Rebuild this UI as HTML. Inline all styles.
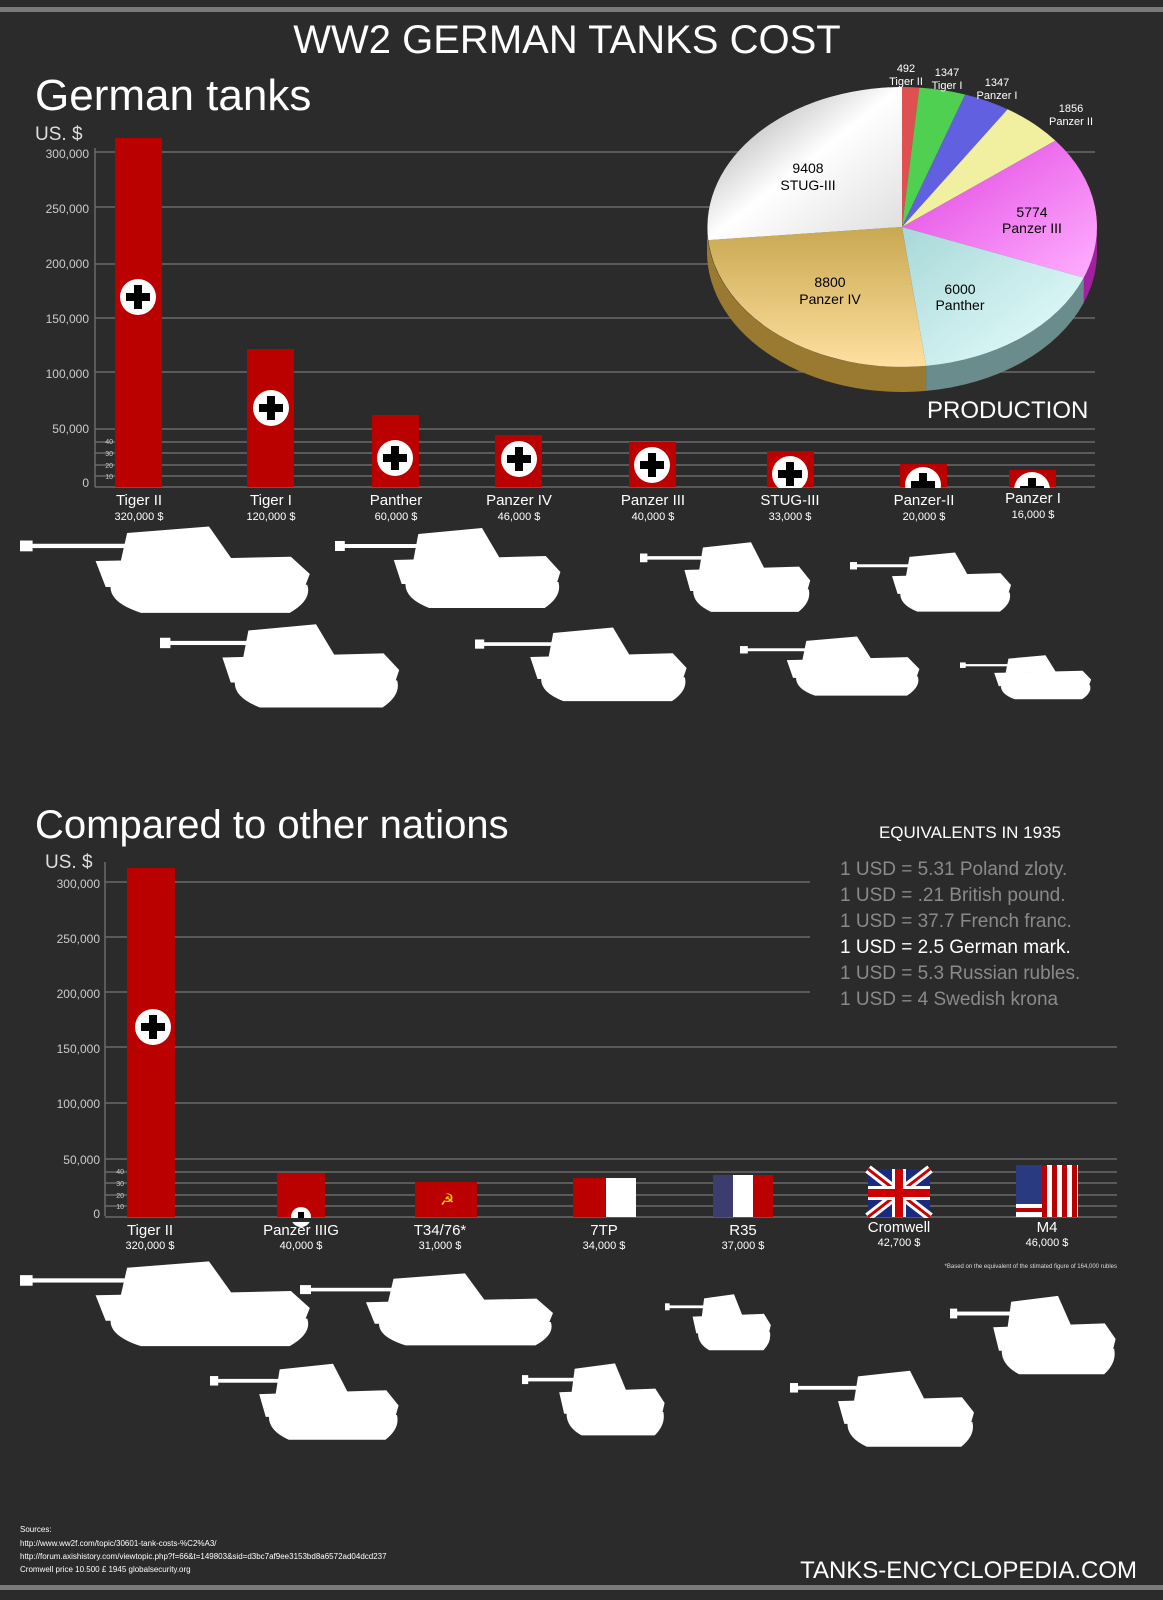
<!DOCTYPE html>
<html><head><meta charset="utf-8"><style>
body{margin:0;background:#2b2b2b;}
svg{display:block;font-family:"Liberation Sans",sans-serif;}
</style></head><body>
<svg width="1163" height="1600" viewBox="0 0 1163 1600" xmlns="http://www.w3.org/2000/svg">
<defs>
<g id="tk" fill="#fff">
<rect x="0" y="22" width="95" height="4"/>
<rect x="0" y="19" width="10" height="10"/>
<path d="M85,12 L150,6 L168,36 L80,38 Z"/>
<path d="M60,38 L215,34 L230,50 L226,62 L68,62 Z"/>
<path d="M72,60 L228,60 Q232,74 214,86 L96,86 Q70,76 72,60 Z"/>
</g>
<g id="cross"><circle r="18" fill="#fff"/><rect x="-12" y="-4" width="24" height="8" fill="#000"/><rect x="-4" y="-12" width="8" height="24" fill="#000"/></g>
<linearGradient id="gs" x1="0" y1="0" x2="1" y2="1"><stop offset="0" stop-color="#999"/><stop offset=".5" stop-color="#fff"/><stop offset="1" stop-color="#ddd"/></linearGradient>
<linearGradient id="gt" x1="0" y1="0" x2="0" y2="1"><stop offset="0" stop-color="#c8a850"/><stop offset="1" stop-color="#ffe0a0"/></linearGradient>
<linearGradient id="gc" x1="0" y1="0" x2="1" y2="1"><stop offset="0" stop-color="#a8d8d8"/><stop offset="1" stop-color="#eaffff"/></linearGradient>
<linearGradient id="gm" x1="0" y1="0" x2="1" y2="1"><stop offset="0" stop-color="#e040e0"/><stop offset="1" stop-color="#ffb0ff"/></linearGradient>
</defs>
<rect x="0" y="7" width="1163" height="5" fill="#7a7a7a"/>
<rect x="0" y="1585" width="1163" height="5" fill="#7a7a7a"/>
<text x="567" y="53" font-size="40" fill="#fff" text-anchor="middle">WW2 GERMAN TANKS COST</text>
<text x="35" y="110" font-size="44" fill="#fff">German tanks</text>
<text x="35" y="140" font-size="19" fill="#ddd">US. $</text>

<g stroke="#6a6a6a" stroke-width="1.5">
<line x1="95" y1="148" x2="95" y2="487"/>
<line x1="95" y1="152" x2="1095" y2="152"/><line x1="95" y1="207" x2="1095" y2="207"/>
<line x1="95" y1="264" x2="1095" y2="264"/><line x1="95" y1="318" x2="1095" y2="318"/>
<line x1="95" y1="372" x2="1095" y2="372"/><line x1="95" y1="429" x2="1095" y2="429"/>
<line x1="95" y1="442" x2="1095" y2="442"/><line x1="95" y1="453" x2="1095" y2="453"/>
<line x1="95" y1="465" x2="1095" y2="465"/><line x1="95" y1="476" x2="1095" y2="476"/>
<line x1="95" y1="487" x2="1095" y2="487"/>
</g>
<g font-size="12" fill="#ccc" text-anchor="end">
<text x="89" y="158">300,000</text><text x="89" y="213">250,000</text><text x="89" y="268">200,000</text>
<text x="89" y="323">150,000</text><text x="89" y="378">100,000</text><text x="89" y="433">50,000</text>
<text x="89" y="487">0</text>
<g font-size="7"><text x="113" y="444">40</text><text x="113" y="456">30</text><text x="113" y="468">20</text><text x="113" y="479">10</text></g>
</g>
<g fill="#bb0000">
<rect x="115" y="138" width="47" height="349"/><rect x="247" y="349" width="47" height="138"/>
<rect x="372" y="415" width="47" height="72"/><rect x="495" y="435" width="47" height="52"/>
<rect x="629" y="442" width="47" height="45"/><rect x="767" y="451" width="47" height="36"/>
<rect x="900" y="464" width="47" height="23"/><rect x="1009" y="470" width="47" height="17"/>
</g>
<use href="#cross" x="138" y="297"/><use href="#cross" x="271" y="408"/>
<use href="#cross" x="395" y="458"/><use href="#cross" x="519" y="459"/>
<use href="#cross" x="652" y="465"/><use href="#cross" x="790" y="474"/>
<use href="#cross" x="923" y="485"/><use href="#cross" x="1032" y="490"/>
<rect x="100" y="488" width="1000" height="20" fill="#2b2b2b"/>
<g fill="#fff" text-anchor="middle" font-size="15">
<text x="139" y="505">Tiger II</text><text x="271" y="505">Tiger I</text><text x="396" y="505">Panther</text>
<text x="519" y="505">Panzer IV</text><text x="653" y="505">Panzer III</text><text x="790" y="505">STUG-III</text>
<text x="924" y="505">Panzer-II</text><text x="1033" y="503">Panzer I</text>
<g font-size="11"><text x="139" y="520">320,000 $</text><text x="271" y="520">120,000 $</text><text x="396" y="520">60,000 $</text>
<text x="519" y="520">46,000 $</text><text x="653" y="520">40,000 $</text><text x="790" y="520">33,000 $</text>
<text x="924" y="520">20,000 $</text><text x="1033" y="518">16,000 $</text></g>
</g>

<g transform="translate(0,-3)">
<path d="M1083.8,280.6 A195,140 0 0 0 1097,230 L1097,255 A195,140 0 0 1 1083.8,305.6 Z" fill="#a020a0"/>
<path d="M926.1,368.9 A195,140 0 0 0 1083.8,280.6 L1083.8,305.6 A195,140 0 0 1 926.1,393.9 Z" fill="#6a8c8c"/>
<path d="M707,230 A195,140 0 0 0 926.1,368.9 L926.1,393.9 A195,140 0 0 1 707,255 Z" fill="#9a7a30"/>
<path d="M902,230 L902,90 A195,140 0 0 1 919.3,90.6 Z" fill="#e05050"/>
<path d="M902,230 L919.3,90.6 A195,140 0 0 1 965.2,97.5 Z" fill="#50d050"/>
<path d="M902,230 L965.2,97.5 A195,140 0 0 1 1007.6,112.3 Z" fill="#6060e0"/>
<path d="M902,230 L1007.6,112.3 A195,140 0 0 1 1055.4,143.6 Z" fill="#f0f0a0"/>
<path d="M902,230 L1055.4,143.6 A195,140 0 0 1 1083.8,280.6 Z" fill="url(#gm)"/>
<path d="M902,230 L1083.8,280.6 A195,140 0 0 1 926.1,368.9 Z" fill="url(#gc)"/>
<path d="M902,230 L926.1,368.9 A195,140 0 0 1 708.3,243.1 Z" fill="url(#gt)"/>
<path d="M902,230 L708.3,243.1 A195,140 0 0 1 902,90 Z" fill="url(#gs)"/>
</g>
<g font-size="14" fill="#000" text-anchor="middle">
<text x="808" y="173">9408</text><text x="808" y="190">STUG-III</text>
<text x="830" y="287">8800</text><text x="830" y="304">Panzer IV</text>
<text x="960" y="294">6000</text><text x="960" y="310">Panther</text>
<text x="1032" y="217">5774</text><text x="1032" y="233">Panzer III</text>
</g>
<g font-size="11" fill="#fff" text-anchor="middle">
<text x="906" y="72">492</text><text x="906" y="85">Tiger II</text>
<text x="947" y="76">1347</text><text x="947" y="89">Tiger I</text>
<text x="997" y="86">1347</text><text x="997" y="99">Panzer I</text>
<text x="1071" y="112">1856</text><text x="1071" y="125">Panzer II</text>
</g>
<text x="927" y="418" font-size="24" fill="#fff">PRODUCTION</text>

<use href="#tk" transform="translate(20,520) scale(1.26,1.08)"/>
<use href="#tk" transform="translate(335,522) scale(0.98,1.0)"/>
<use href="#tk" transform="translate(640,537) scale(0.74,0.87)"/>
<use href="#tk" transform="translate(850,548) scale(0.7,0.74)"/>
<use href="#tk" transform="translate(160,618) scale(1.04,1.04)"/>
<use href="#tk" transform="translate(475,622) scale(0.92,0.92)"/>
<use href="#tk" transform="translate(740,632) scale(0.78,0.74)"/>
<use href="#tk" transform="translate(960,652) scale(0.57,0.55)"/>

<text x="35" y="838" font-size="40" fill="#fff">Compared to other nations</text>
<text x="45" y="868" font-size="19" fill="#ddd">US. $</text>
<g font-size="17" fill="#fff" text-anchor="middle">
<text x="970" y="838">EQUIVALENTS IN 1935</text>
<g font-size="19" fill="#8a8a8a" text-anchor="start">
<text x="840" y="875">1 USD = 5.31 Poland zloty.</text>
<text x="840" y="901">1 USD = .21 British pound.</text>
<text x="840" y="927">1 USD = 37.7 French franc.</text>
<text x="840" y="953" fill="#fff">1 USD = 2.5 German mark.</text>
<text x="840" y="979">1 USD = 5.3 Russian rubles.</text>
<text x="840" y="1005">1 USD = 4 Swedish krona</text>
</g></g>
<g stroke="#6a6a6a" stroke-width="1.5">
<line x1="105" y1="862" x2="105" y2="1216"/>
<line x1="105" y1="882" x2="810" y2="882"/><line x1="105" y1="937" x2="810" y2="937"/>
<line x1="105" y1="992" x2="810" y2="992"/><line x1="105" y1="1047" x2="1117" y2="1047"/>
<line x1="105" y1="1103" x2="1117" y2="1103"/><line x1="105" y1="1159" x2="1117" y2="1159"/>
<line x1="105" y1="1172" x2="1117" y2="1172"/><line x1="105" y1="1183" x2="1117" y2="1183"/>
<line x1="105" y1="1195" x2="1117" y2="1195"/><line x1="105" y1="1206" x2="1117" y2="1206"/>
<line x1="105" y1="1217" x2="1117" y2="1217"/>
</g>
<g font-size="12" fill="#ccc" text-anchor="end">
<text x="100" y="888">300,000</text><text x="100" y="943">250,000</text><text x="100" y="998">200,000</text>
<text x="100" y="1053">150,000</text><text x="100" y="1108">100,000</text><text x="100" y="1164">50,000</text>
<text x="100" y="1218">0</text>
<g font-size="7"><text x="124" y="1174">40</text><text x="124" y="1186">30</text><text x="124" y="1198">20</text><text x="124" y="1209">10</text></g>
</g>
<g fill="#bb0000">
<rect x="127" y="868" width="48" height="349"/><rect x="277" y="1173" width="48" height="44"/>
<rect x="415" y="1182" width="62" height="35"/><rect x="573" y="1178" width="33" height="39"/>
</g>
<use href="#cross" x="153" y="1027"/>
<circle cx="301" cy="1217" r="10" fill="#fff"/><rect x="298" y="1212" width="6" height="8" fill="#000"/>
<text x="440" y="1205" font-size="16" fill="#ffd700">☭</text>
<rect x="606" y="1178" width="30" height="39" fill="#fff"/>
<rect x="713" y="1175" width="20" height="42" fill="#3c3c6e"/><rect x="733" y="1175" width="20" height="42" fill="#fff"/><rect x="753" y="1175" width="20" height="42" fill="#bb0000"/>
<g>
<rect x="868" y="1169" width="62" height="48" fill="#1a2a80"/>
<path d="M868,1169 L930,1217 M930,1169 L868,1217" stroke="#fff" stroke-width="9"/>
<path d="M868,1169 L930,1217 M930,1169 L868,1217" stroke="#cc0000" stroke-width="3"/>
<rect x="892" y="1169" width="14" height="48" fill="#fff"/><rect x="868" y="1186" width="62" height="14" fill="#fff"/>
<rect x="895" y="1169" width="8" height="48" fill="#cc0000"/><rect x="868" y="1189" width="62" height="8" fill="#cc0000"/>
</g>
<g>
<rect x="1016" y="1165" width="62" height="52" fill="#fff"/>
<g fill="#bb0000"><rect x="1042" y="1165" width="5" height="52"/><rect x="1052" y="1165" width="5" height="52"/><rect x="1062" y="1165" width="5" height="52"/><rect x="1072" y="1165" width="5" height="52"/><rect x="1016" y="1208" width="26" height="4"/></g>
<rect x="1016" y="1165" width="26" height="39" fill="#2a3a80"/>
</g>
<rect x="110" y="1218" width="1000" height="4" fill="#2b2b2b"/>
<g fill="#fff" text-anchor="middle" font-size="15">
<text x="150" y="1235">Tiger II</text><text x="301" y="1235">Panzer IIIG</text><text x="440" y="1235">T34/76*</text>
<text x="604" y="1235">7TP</text><text x="743" y="1235">R35</text><text x="899" y="1232">Cromwell</text><text x="1047" y="1232">M4</text>
<g font-size="11"><text x="150" y="1249">320,000 $</text><text x="301" y="1249">40,000 $</text><text x="440" y="1249">31,000 $</text>
<text x="604" y="1249">34,000 $</text><text x="743" y="1249">37,000 $</text><text x="899" y="1246">42,700 $</text><text x="1047" y="1246">46,000 $</text></g>
</g>
<text x="1117" y="1268" font-size="6" fill="#ddd" text-anchor="end">*Based on the equivalent of the stimated figure of 164,000 rubles</text>

<use href="#tk" transform="translate(20,1255) scale(1.26,1.06)"/>
<use href="#tk" transform="translate(300,1268) scale(1.1,0.9)"/>
<use href="#tk" transform="translate(665,1290) scale(0.46,0.7)"/>
<use href="#tk" transform="translate(950,1290) scale(0.72,0.98)"/>
<use href="#tk" transform="translate(210,1358) scale(0.82,0.95)"/>
<use href="#tk" transform="translate(522,1358) scale(0.62,0.9)"/>
<use href="#tk" transform="translate(790,1365) scale(0.8,0.95)"/>

<g font-size="8" fill="#fff">
<text x="20" y="1532">Sources:</text>
<text x="20" y="1546">http://www.ww2f.com/topic/30601-tank-costs-%C2%A3/</text>
<text x="20" y="1559">http://forum.axishistory.com/viewtopic.php?f=66&amp;t=149803&amp;sid=d3bc7af9ee3153bd8a6572ad04dcd237</text>
<text x="20" y="1572">Cromwell price 10.500 £ 1945 globalsecurity.org</text>
</g>
<text x="1137" y="1578" font-size="24" fill="#fff" text-anchor="end">TANKS-ENCYCLOPEDIA.COM</text>
</svg>
</body></html>
